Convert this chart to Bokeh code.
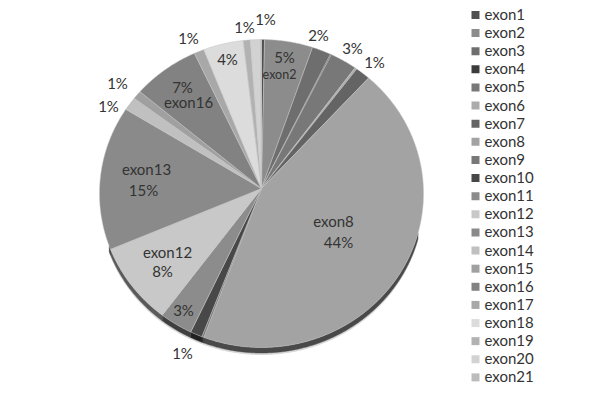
import math
from bokeh.plotting import figure
from bokeh.embed import file_html
from bokeh.resources import INLINE
from bokeh.core.properties import value

exons = ["exon%d" % i for i in range(1, 22)]
percents = [0.3, 4.8, 1.9, 0.1, 2.7, 0.2, 1.5, 44.3, 0.2, 1.2, 3.3, 8.6, 15.1, 1.4, 0.9, 6.7, 1.0, 4.0, 0.7, 1.0, 0.1]
colors = ["#505050", "#8c8c8c", "#6e6e6e", "#3c3c3c", "#787878", "#ababab", "#646464", "#a3a3a3",
          "#787878", "#484848", "#8c8c8c", "#c8c8c8", "#8a8a8a", "#c0c0c0", "#a0a0a0", "#828282",
          "#a8a8a8", "#dcdcdc", "#b2b2b2", "#d2d2d2", "#bcbcbc"]
label_text = ["1%", "1%", "1%", "1%", "1%", "2%", "3%", "1%", "5%", "4%", "7%", "exon16", "exon13", "15%",
              "exon8", "44%", "exon12", "8%", "3%", "1%"]
label_x = [265, 244, 188, 117, 108, 318, 352, 374, 284, 227, 182, 188, 146, 143, 333, 338, 167, 162, 183, 182]
label_y = [18, 26, 37, 82, 105, 34, 47, 61, 56, 58, 86, 101, 168, 189, 220, 241, 251, 270, 309, 352]

W, H = 584, 386
CX, APEX_Y, ELL_Y, RX, RY, DEPTH = 261, 188, 193, 162, 154, 5.5
FONT = "Lato"

p = figure(width=W, height=H, x_range=(0, W), y_range=(H, 0), output_backend="svg",
           toolbar_location=None, min_border=0)
p.axis.visible = False
p.grid.visible = False
p.outline_line_color = None
p.background_fill_color = "white"
p.border_fill_color = "white"


def arc(a0, a1, dy=0.0):
    n = max(2, int(abs(a1 - a0) * 3))
    ts = [a0 + (a1 - a0) * i / n for i in range(n + 1)]
    return ([CX + RX * math.sin(math.radians(t)) for t in ts],
            [ELL_Y + dy - RY * math.cos(math.radians(t)) for t in ts])


def darker(c, f):
    v = int(int(c[1:3], 16) * f)
    return "#%02x%02x%02x" % (v, v, v)


total = sum(percents)
angles = [0.0]
for v in percents:
    angles.append(angles[-1] + v / total * 360)

# soft shadow and extruded side
sx, sy = arc(105, 250, DEPTH + 2)
p.patch(sx + sx[::-1], sy + [y - 4 for y in sy[::-1]], fill_color="#d8d8d8", line_color=None)
for i, c in enumerate(colors):
    a0, a1 = max(angles[i], 105), min(angles[i + 1], 250)
    if a1 <= a0:
        continue
    x0, y0 = arc(a0, a1)
    x1, y1 = arc(a0, a1, DEPTH)
    p.patch(x0 + x1[::-1], y0 + y1[::-1], fill_color=darker(c, 0.45), line_color=darker(c, 0.45), line_width=0.5)

# top surface
for i, c in enumerate(colors):
    xs, ys = arc(angles[i], angles[i + 1])
    p.patch([CX] + xs, [APEX_Y] + ys, fill_color=c, line_color="#c4c4c4", line_width=0.5)

p.text(label_x, label_y, text=label_text, text_font=value(FONT), text_font_size="15px", text_color="#333333",
       text_align="center", text_baseline="middle")
p.text([279], [74], text=["exon2"], text_font=value(FONT), text_font_size="12.5px", text_color="#333333",
       text_align="center", text_baseline="middle")

# legend
ly = [14.5 + 18.12 * i for i in range(len(exons))]
p.rect([475] * len(exons), ly, width=8, height=8, fill_color=colors, line_color=None)
p.text([484] * len(exons), [y - 1 for y in ly], text=exons, text_font=value(FONT), text_font_size="15px",
       text_color="#333333", text_align="left", text_baseline="middle")

open("out.html", "w").write(file_html(p, INLINE))
